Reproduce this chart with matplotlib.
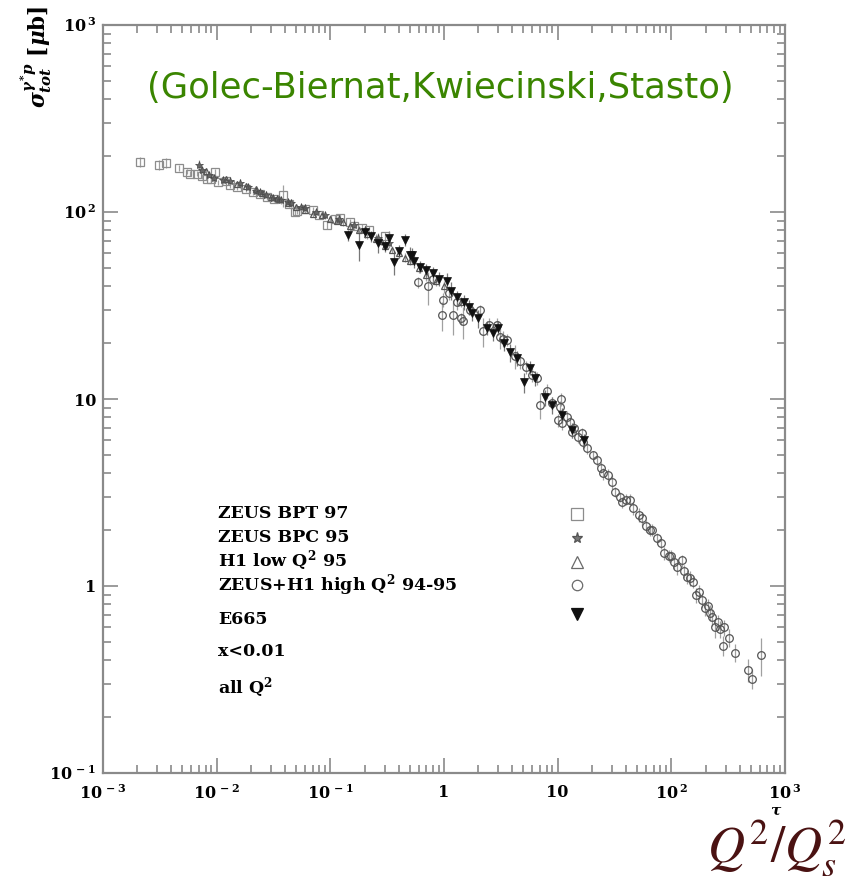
import matplotlib
matplotlib.use("Agg")
import matplotlib.pyplot as plt
from matplotlib.ticker import FixedLocator, LogLocator, NullFormatter

# tau = Q^2/Q_s^2, sigma in micro-barn, err = absolute error
# ZEUS BPT 97 (open squares)
bpt_tau = [0.0021, 0.0031, 0.0036, 0.0047, 0.0055, 0.0058, 0.0067, 0.0075, 0.0082, 0.009,
           0.0097, 0.0103, 0.012, 0.013, 0.015, 0.018, 0.021, 0.024, 0.028, 0.032,
           0.038, 0.043, 0.049, 0.051, 0.06, 0.070, 0.08, 0.093, 0.11, 0.121,
           0.148, 0.16, 0.19, 0.22, 0.3]
bpt_sig = [185, 178, 183, 172, 164, 160, 160, 155, 151, 150,
           164, 144, 146, 140, 136, 133, 128, 125, 120, 117,
           123, 110, 100, 101, 104, 103, 96, 85, 92, 93,
           88, 84, 82, 80, 74]
bpt_err = [12, 11, 11, 6, 5, 5, 5, 5, 5, 5,
           6, 5, 5, 5, 5, 5, 5, 5, 4, 4,
           16, 4, 4, 4, 4, 4, 4, 4, 4, 4,
           4, 4, 4, 4, 4]

# ZEUS BPC 95 (stars)
bpc_tau = [0.0070, 0.0074, 0.0085, 0.0095, 0.0113, 0.013, 0.016, 0.019, 0.022, 0.024,
           0.027, 0.031, 0.034, 0.037, 0.042, 0.045, 0.055, 0.060, 0.075, 0.09,
           0.12, 0.16, 0.2, 0.26, 0.33]
bpc_sig = [178, 168, 158, 152, 148, 146, 143, 136, 130, 128,
           124, 119, 118, 116, 113, 112, 106, 105, 100, 96,
           92, 85, 80, 73, 68]
bpc_err = [12, 6, 5, 5, 6, 5, 8, 5, 5, 5,
           5, 5, 5, 5, 5, 5, 5, 5, 4, 4,
           4, 4, 4, 4, 4]

# H1 low Q^2 95 (open triangles)
h1_tau = [0.008, 0.012, 0.015, 0.018, 0.022, 0.025, 0.03, 0.035, 0.042, 0.05,
          0.06, 0.07, 0.085, 0.10, 0.115, 0.13, 0.15, 0.18, 0.21, 0.25,
          0.28, 0.30, 0.35, 0.40, 0.45, 0.50, 0.6, 0.70, 0.85, 1.0, 1.4]
h1_sig = [165, 150, 142, 138, 132, 126, 121, 117, 112, 106,
          103, 98, 96, 92, 90, 88, 84, 80, 76, 72,
          70, 66, 63, 60, 57, 55, 50, 46, 43, 40, 33]
h1_err = [6, 5, 5, 5, 5, 5, 4, 4, 4, 4,
          4, 4, 4, 4, 4, 4, 4, 4, 4, 4,
          3, 3, 3, 3, 3, 3, 3, 3, 3, 3, 2]

# ZEUS+H1 high Q^2 94-95 (open circles)
hq_tau = [0.59, 0.72, 0.8, 0.96, 0.98, 1.1, 1.2, 1.3, 1.4, 1.47,
          1.7, 2.07, 2.2, 2.5, 2.9, 3.1, 3.3, 3.6, 4.2, 4.7,
          5.3, 6.0, 6.6, 7.0, 8.0, 9.0, 10.0, 10.4, 10.8, 11.0,
          12.0, 12.8, 13.4, 14.0, 15.0, 16.3, 16.6, 18.0, 20.5, 22,
          24, 25, 28, 30, 32, 35, 37, 40, 43, 46,
          52, 55, 60, 65, 68, 75, 81, 87, 95, 100,
          105, 112, 123, 130, 138, 145, 154, 166, 175, 186,
          197, 210, 217, 230, 240, 255, 267, 283, 292, 320,
          360, 470, 515, 610]
hq_sig = [42, 40, 44, 28, 34, 37, 28, 33, 27, 26,
          30, 30, 23, 25, 25, 21.5, 21, 20.7, 16.9, 16,
          14.8, 13.5, 12.9, 9.3, 11, 9.5, 7.7, 9.1, 10.0, 7.4,
          8.0, 7.5, 6.7, 7.0, 6.3, 6.6, 5.9, 5.5, 5.0, 4.7,
          4.3, 4.0, 3.9, 3.6, 3.2, 3.0, 2.8, 2.9, 2.9, 2.6,
          2.4, 2.3, 2.1, 2.0, 2.0, 1.8, 1.7, 1.5, 1.45, 1.45,
          1.35, 1.26, 1.37, 1.2, 1.12, 1.1, 1.05, 0.89, 0.93, 0.84,
          0.76, 0.78, 0.72, 0.68, 0.60, 0.64, 0.59, 0.48, 0.60, 0.53,
          0.44, 0.355, 0.32, 0.43]
hq_err = [3, 8, 3, 5, 3, 3, 6, 3, 2, 5,
          2, 2, 4, 2, 2, 3, 2, 1.5, 2.5, 1.5,
          1.2, 1.2, 1, 1.5, 1, 0.8, 0.6, 0.6, 0.8, 0.6,
          0.6, 0.5, 0.5, 0.5, 0.5, 0.4, 0.4, 0.4, 0.3, 0.3,
          0.3, 0.3, 0.3, 0.3, 0.2, 0.2, 0.2, 0.2, 0.2, 0.2,
          0.2, 0.2, 0.15, 0.15, 0.15, 0.12, 0.12, 0.12, 0.1, 0.1,
          0.12, 0.12, 0.1, 0.1, 0.1, 0.1, 0.08, 0.08, 0.08, 0.08,
          0.07, 0.07, 0.07, 0.07, 0.07, 0.06, 0.06, 0.06, 0.06, 0.06,
          0.05, 0.05, 0.04, 0.1]

# E665 (filled down triangles)
e665_tau = [0.143, 0.18, 0.2, 0.23, 0.26, 0.3, 0.33, 0.36, 0.4, 0.45,
            0.50, 0.52, 0.55, 0.62, 0.7, 0.80, 0.9, 1.07, 1.16, 1.3,
            1.5, 1.65, 1.76, 2.0, 2.4, 2.7, 3.0, 3.4, 3.8, 4.4,
            5.1, 5.7, 6.3, 7.7, 9.0, 11, 13.5, 17]
e665_sig = [75, 67, 78, 74, 68, 66, 73, 54, 62, 71,
            59, 59, 55, 51, 49, 47, 44, 43, 38, 35,
            33, 31, 29, 27, 24, 22.5, 24, 20, 17.8, 16.5,
            12.3, 14.7, 13, 10.2, 9.3, 8.2, 6.8, 6.0]
e665_err = [5, 12, 5, 5, 8, 5, 6, 8, 5, 5,
            6, 5, 5, 4, 4, 4, 4, 4, 4, 3,
            3, 3, 3, 3, 2, 2, 2, 2, 2, 1.5,
            1.5, 1.2, 1.2, 1, 1, 0.8, 0.6, 0.5]

xticks = [1e-3, 1e-2, 1e-1, 1, 10, 1e2, 1e3]
xlabels = [r"$10^{\,-3}$", r"$10^{\,-2}$", r"$10^{\,-1}$", "1", "10", r"$10^{\,2}$", r"$10^{\,3}$"]
yticks = [1e-1, 1, 10, 1e2, 1e3]
ylabels = [r"$10^{\,-1}$", "1", "10", r"$10^{\,2}$", r"$10^{\,3}$"]

legend_labels = ["ZEUS BPT 97", "ZEUS BPC 95", r"H1 low Q$^{2}$ 95",
                 r"ZEUS+H1 high Q$^{2}$ 94-95", "E665", "x<0.01", r"all Q$^{2}$"]

plt.rcParams["font.family"] = "DejaVu Serif"
plt.rcParams["mathtext.fontset"] = "custom"
plt.rcParams["mathtext.rm"] = "DejaVu Serif:bold"
plt.rcParams["mathtext.it"] = "DejaVu Serif:italic:bold"
plt.rcParams["mathtext.bf"] = "DejaVu Serif:bold"

W, H = 849, 881
fig = plt.figure(figsize=(W / 100, H / 100), dpi=100)
ax = fig.add_axes([103 / W, 1 - 773 / H, 682 / W, 748 / H])


def fx(px):
    return px / W


def fy(py):
    return 1 - py / H


ecol = "#a0a0a0"
ax.errorbar(bpt_tau, bpt_sig, yerr=bpt_err, fmt="s", ms=6, mfc="none", mec="#8c8c8c",
            mew=0.9, ecolor=ecol, elinewidth=0.9, capsize=0)
ax.errorbar(bpc_tau, bpc_sig, yerr=bpc_err, fmt="*", ms=6, mfc="#666666", mec="#444444",
            mew=0.5, ecolor=ecol, elinewidth=0.9, capsize=0)
ax.errorbar(h1_tau, h1_sig, yerr=h1_err, fmt="^", ms=5, mfc="none", mec="#555555",
            mew=0.9, ecolor=ecol, elinewidth=0.9, capsize=0)
ax.errorbar(hq_tau, hq_sig, yerr=hq_err, fmt="o", ms=5.5, mfc="none", mec="#555555",
            mew=0.9, ecolor=ecol, elinewidth=0.9, capsize=0)
ax.errorbar(e665_tau, e665_sig, yerr=e665_err, fmt="v", ms=5.5, mfc="#111111", mec="#111111",
            mew=0.5, ecolor="#777777", elinewidth=0.9, capsize=0)

ax.set_xscale("log")
ax.set_yscale("log")
ax.set_xlim(1e-3, 1e3)
ax.set_ylim(1e-1, 1e3)

ax.xaxis.set_major_locator(FixedLocator(xticks))
ax.set_xticklabels(xlabels, fontweight="bold")
ax.yaxis.set_major_locator(FixedLocator(yticks))
ax.set_yticklabels(ylabels, fontweight="bold")
ax.xaxis.set_minor_locator(LogLocator(base=10, subs=range(2, 10), numticks=20))
ax.yaxis.set_minor_locator(LogLocator(base=10, subs=range(2, 10), numticks=20))
ax.xaxis.set_minor_formatter(NullFormatter())
ax.yaxis.set_minor_formatter(NullFormatter())

gray = "#8a8a8a"
for s in ax.spines.values():
    s.set_color(gray)
    s.set_linewidth(1.6)
ax.tick_params(which="both", direction="in", top=True, right=True, color=gray, width=1.2)
ax.tick_params(which="major", length=11, labelsize=11.5)
ax.tick_params(which="minor", length=6)
ax.tick_params(axis="x", which="major", pad=8)
ax.tick_params(axis="y", which="major", pad=5)

# y label, top-left, rotated
fig.text(fx(36), fy(6), r"$\sigma_{tot}^{\gamma^{*}p}$ [$\mu$b]", rotation=90,
         ha="center", va="top", fontsize=15.5, weight="bold")

# x label
fig.text(fx(776), fy(811), r"$\tau$", ha="center", va="center", fontsize=11, weight="bold")

# green citation
fig.text(fx(440), fy(88), "(Golec-Biernat,Kwiecinski,Stasto)", color="#3a8500",
         ha="center", va="center", fontsize=25.5, family="DejaVu Sans")

# big axis name at bottom right
fig.text(fx(846), fy(878), r"$Q^2/Q_s^2$", color="#4a1212", ha="right", va="bottom",
         fontsize=37, math_fontfamily="stix")

# hand-made legend
text_y = [514, 538, 561, 585, 619, 652, 688]
for lab, py in zip(legend_labels, text_y):
    fig.text(fx(218), fy(py), lab, ha="left", va="center", fontsize=12.5, weight="bold")

mark_y = [514, 538, 562, 585, 614]
mark_style = [("s", "none", "#8c8c8c", 8), ("*", "#777777", "#555555", 8),
              ("^", "none", "#6a6a6a", 8), ("o", "none", "#6a6a6a", 7.5),
              ("v", "#111111", "#111111", 8)]
for py, (m, fc, ec, ms) in zip(mark_y, mark_style):
    ax.plot([fx(577)], [fy(py)], m, ms=ms, mfc=fc, mec=ec, mew=0.9,
            transform=fig.transFigure, clip_on=False)

fig.savefig("out.png", dpi=100)
